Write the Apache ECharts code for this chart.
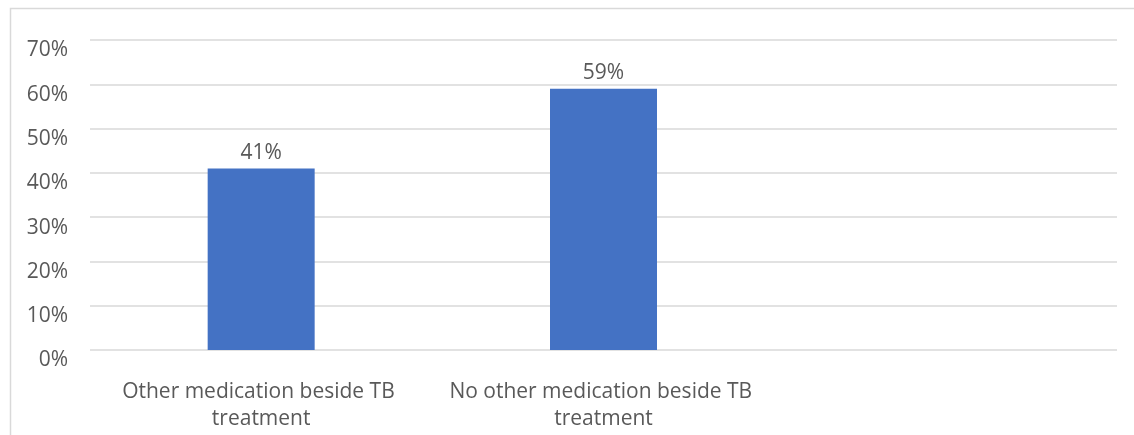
<!DOCTYPE html>
<html>
<head>
<meta charset="utf-8">
<script src="https://cdn.jsdelivr.net/npm/echarts@6/dist/echarts.min.js"></script>
<style>
  html, body { margin: 0; padding: 0; background: #fff; }
  #chart { width: 1134px; height: 435px; }
</style>
</head>
<body>
<div id="chart"></div>
<script>
// Share of TB patients by whether they take other medication
const categories = ['Other medication beside TB treatment', 'No other medication beside TB treatment', ''];
const shares = [41, 59, null];
const yTicks = [0, 10, 20, 30, 40, 50, 60, 70];

const textColor = '#595959';
const fontFamily = '"Open Sans", "Noto Sans", sans-serif';

const chart = echarts.init(document.getElementById('chart'));
chart.setOption({
  animation: false,
  graphic: [{
    type: 'rect',
    shape: { x: 10.5, y: 8.5, width: 1200, height: 600 },
    style: { fill: 'none', stroke: '#d9d9d9', lineWidth: 1.5 },
    silent: true
  }],
  grid: { left: 90, right: 17, top: 40, bottom: 85, containLabel: false },
  xAxis: {
    type: 'category',
    data: categories,
    axisLine: { show: false },
    axisTick: { show: false },
    axisLabel: {
      interval: 0,
      color: textColor,
      fontFamily: fontFamily,
      fontSize: 21,
      lineHeight: 27,
      margin: 29,
      width: 330,
      overflow: 'break'
    }
  },
  yAxis: {
    type: 'value',
    min: yTicks[0],
    max: yTicks[yTicks.length - 1],
    interval: 10,
    axisLine: { show: false },
    axisTick: { show: false },
    splitLine: { lineStyle: { color: '#d9d9d9', width: 1.5 } },
    axisLabel: {
      color: textColor,
      fontFamily: fontFamily,
      fontSize: 21,
      margin: 22,
      verticalAlign: 'top',
      formatter: v => v + '%'
    }
  },
  series: [{
    type: 'bar',
    data: shares,
    barWidth: 107,
    itemStyle: { color: '#4472C4' },
    label: {
      show: true,
      position: 'top',
      distance: 5,
      color: textColor,
      fontFamily: fontFamily,
      fontSize: 21,
      formatter: p => p.value + '%'
    }
  }]
});
</script>
</body>
</html>
